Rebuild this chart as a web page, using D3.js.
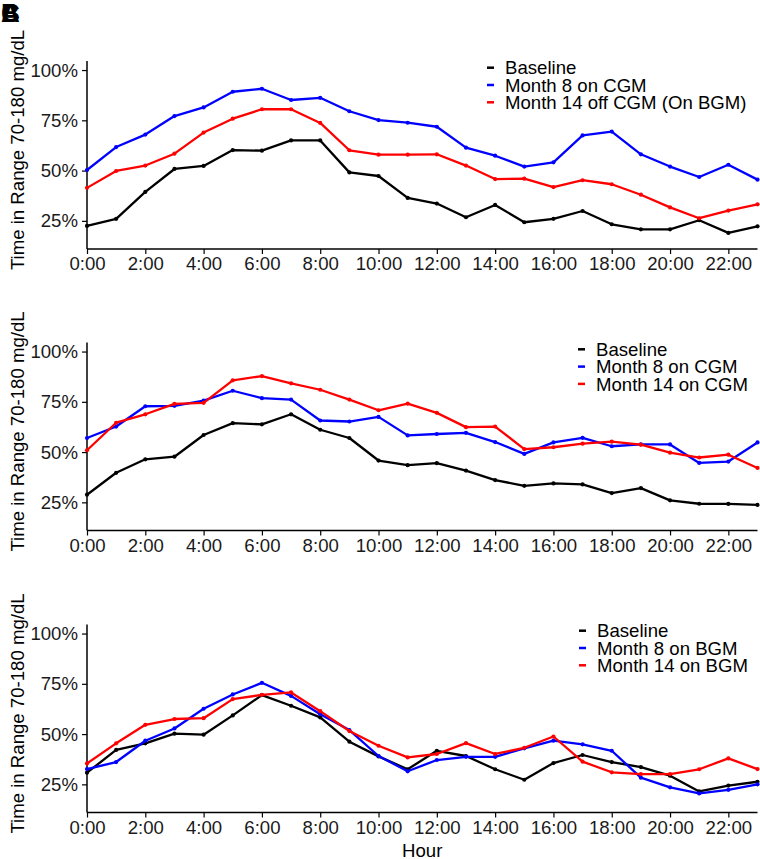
<!DOCTYPE html>
<html>
<head>
<meta charset="utf-8">
<script src="https://cdn.jsdelivr.net/npm/d3@7"></script>
<style>
  html, body { margin: 0; padding: 0; background: #fff; }
  svg { display: block; }
</style>
</head>
<body>
<script>
// ---- data ----
const hours = d3.range(0, 24);
const xTickValues = [0, 2, 4, 6, 8, 10, 12, 14, 16, 18, 20, 22];
const xTickLabels = ["0:00","2:00","4:00","6:00","8:00","10:00","12:00","14:00","16:00","18:00","20:00","22:00"];
const yTickValues = [25, 50, 75, 100];
const yTickLabels = ["25%", "50%", "75%", "100%"];
const seriesColors = ["#000000", "#0000FF", "#FF0000"];

const panel1Names = ["Baseline", "Month 8 on CGM", "Month 14 off CGM (On BGM)"];
const panel1Baseline = [22.5,26.0,39.4,50.8,52.3,60.2,59.9,65.0,65.0,49.1,47.3,36.4,33.6,26.8,32.9,24.3,26.0,29.9,23.3,20.8,20.8,25.3,19.0,22.3];
const panel1Month8   = [50.3,61.7,67.9,77.1,81.4,89.2,90.7,85.1,86.2,79.5,75.1,73.8,71.8,61.4,57.4,52.0,54.1,67.5,69.4,58.1,52.0,46.8,52.9,45.5];
const panel1Month14  = [41.4,49.8,52.5,58.4,68.9,75.8,80.5,80.5,73.7,60.1,57.9,57.9,58.1,52.5,45.8,46.0,41.8,45.2,43.2,38.0,31.7,26.3,30.1,33.2];

const panel2Names = ["Baseline", "Month 8 on CGM", "Month 14 on CGM"];
const panel2Baseline = [28.8,39.7,46.4,47.7,58.5,64.4,63.8,68.8,61.1,57.0,45.8,43.5,44.5,40.8,36.1,33.2,34.4,33.9,29.6,32.1,26.0,24.3,24.2,23.7];
const panel2Month8   = [57.0,62.7,72.8,73.0,75.6,80.5,76.8,76.1,65.7,65.2,67.5,58.3,59.0,59.6,55.0,49.1,54.8,57.1,52.9,53.8,53.8,44.6,45.3,54.8];
const panel2Month14  = [50.9,64.6,68.8,74.0,74.5,85.7,87.8,84.2,81.0,76.1,70.8,74.1,69.5,62.4,62.7,51.5,52.4,54.2,55.2,53.7,49.7,47.3,48.7,42.1];

const panel3Names = ["Baseline", "Month 8 on BGM", "Month 14 on BGM"];
const panel3Baseline = [30.8,42.1,45.4,50.2,49.7,59.3,69.4,64.1,58.3,46.2,38.9,32.5,41.7,39.1,32.5,27.3,35.6,39.6,36.1,33.6,29.3,21.5,24.4,26.3];
const panel3Month8   = [32.6,36.1,46.7,52.8,62.6,69.7,75.5,69.0,59.9,52.0,39.1,31.5,37.1,38.7,38.7,42.9,46.7,44.9,41.7,28.3,23.5,20.5,22.3,25.0];
const panel3Month14  = [35.4,45.4,54.6,57.5,57.9,67.4,69.5,70.7,61.4,51.5,44.2,38.4,40.1,45.5,40.1,43.2,48.8,36.3,31.0,30.1,30.1,32.5,37.9,32.6];

const yTitle = "Time in Range 70-180 mg/dL";
const xTitle = "Hour";
const panelLetters = ["A", "B", "C"];

// ---- layout ----
const W = 760, H = 859;
const FS = 18.6;
const FONT = "'Liberation Sans', Arial, Helvetica, sans-serif";
const svg = d3.select("body").append("svg").attr("width", W).attr("height", H)
  .style("font-family", FONT);

const x = d3.scaleLinear().domain([0, 23]).range([87, 757.5]);
const panelH = 188;
const panels = [
  { top: 61,    names: panel1Names, data: [panel1Baseline, panel1Month8, panel1Month14], legX: 505, legY: 67.7 },
  { top: 342.5, names: panel2Names, data: [panel2Baseline, panel2Month8, panel2Month14], legX: 596, legY: 349.3 },
  { top: 624.5, names: panel3Names, data: [panel3Baseline, panel3Month8, panel3Month14], legX: 597, legY: 630.7 }
];

// overlapping panel letters
panelLetters.forEach(l => {
  svg.append("text").attr("x", 1).attr("y", 22)
    .attr("font-size", 26).attr("font-weight", "bold").attr("fill", "#000").text(l);
});

panels.forEach((p, pi) => {
  const y = d3.scaleLinear().domain([11, 104.5]).range([p.top + panelH, p.top]);
  const g = svg.append("g");

  // y axis
  const yAxis = d3.axisLeft(y).tickValues(yTickValues)
    .tickFormat((d, i) => yTickLabels[i]).tickSize(5).tickPadding(4);
  const ya = g.append("g").attr("transform", `translate(${x(0)},0)`).call(yAxis);
  ya.select(".domain").attr("stroke", "#000").attr("stroke-width", 1.5)
    .attr("d", `M-0,${p.top}V${p.top + panelH}`);
  ya.selectAll(".tick line").attr("stroke", "#000").attr("stroke-width", 1.2);
  ya.selectAll(".tick text").attr("font-size", FS).attr("fill", "#1a1a1a")
    .attr("font-family", FONT);

  // x axis
  const xAxis = d3.axisBottom(x).tickValues(xTickValues)
    .tickFormat((d, i) => xTickLabels[i]).tickSize(5).tickPadding(3);
  const xa = g.append("g").attr("transform", `translate(0,${p.top + panelH})`).call(xAxis);
  xa.select(".domain").attr("stroke", "#000").attr("stroke-width", 1.5)
    .attr("d", `M${x(0)},0H${x(23)}`);
  xa.selectAll(".tick line").attr("stroke", "#000").attr("stroke-width", 1.2);
  xa.selectAll(".tick text").attr("font-size", FS).attr("fill", "#1a1a1a")
    .attr("font-family", FONT);

  // y title
  g.append("text")
    .attr("transform", `translate(23.5,${p.top + panelH / 2 - 5}) rotate(-90)`)
    .attr("text-anchor", "middle").attr("font-size", FS).attr("fill", "#000")
    .text(yTitle);

  // lines
  const line = d3.line().x((d, i) => x(hours[i])).y(d => y(d));
  p.data.forEach((vals, si) => {
    g.append("path").datum(vals).attr("d", line)
      .attr("fill", "none").attr("stroke", seriesColors[si])
      .attr("stroke-width", 2.3).attr("stroke-linejoin", "round");
    g.selectAll(null).data(vals).enter().append("circle")
      .attr("cx", (d, i) => x(hours[i])).attr("cy", d => y(d))
      .attr("r", 2.1).attr("fill", seriesColors[si]);
  });

  // legend
  p.names.forEach((n, si) => {
    const ly = p.legY + si * 17.3;
    g.append("line").attr("x1", p.legX - 18).attr("x2", p.legX - 11)
      .attr("y1", ly).attr("y2", ly)
      .attr("stroke", seriesColors[si]).attr("stroke-width", 2.5);
    g.append("text").attr("x", p.legX).attr("y", ly).attr("dy", "0.36em")
      .attr("font-size", FS).attr("fill", "#000").text(n);
  });
});

// x title
svg.append("text").attr("x", x(11.5)).attr("y", 850).attr("dy", "0.36em")
  .attr("text-anchor", "middle").attr("font-size", FS).attr("fill", "#000")
  .text(xTitle);
</script>
</body>
</html>
